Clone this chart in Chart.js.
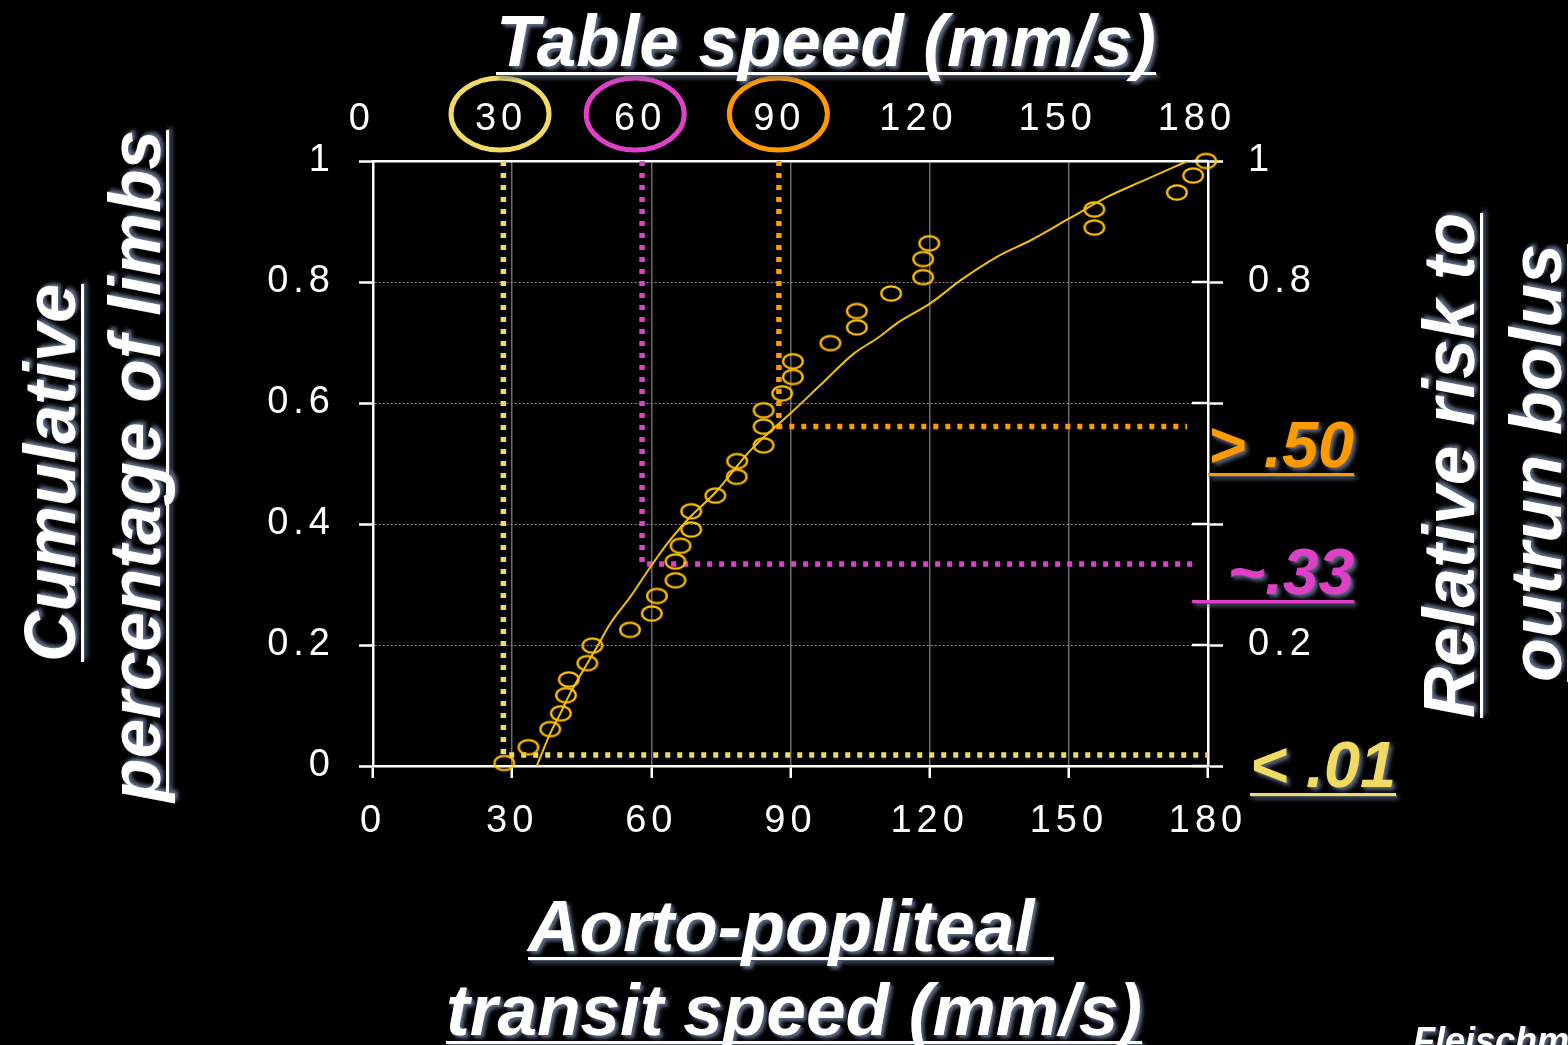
<!DOCTYPE html>
<html>
<head>
<meta charset="utf-8">
<script src="https://cdn.jsdelivr.net/npm/chart.js@4.4.1/dist/chart.umd.min.js"></script>
<style>
    html, body { margin: 0; padding: 0; background: #000; overflow: hidden; width: 1568px; height: 1045px; }
    #wrap { position: relative; width: 1568px; height: 1045px; }
    canvas { position: absolute; left: 0; top: 0; }
    .lbl {
        position: absolute; white-space: pre; line-height: 1;
        font-family: "Liberation Sans", Arial, sans-serif; font-weight: bold; font-style: italic;
        color: #fff; transform-origin: 0 0;
        text-shadow: 3px 3px 4px #5d6880, 1px 1px 1px #3c4455;
        text-decoration: underline; text-decoration-thickness: 3px;
        text-decoration-skip-ink: none; text-underline-offset: 6px;
    }
</style>
</head>
<body>
<div id="wrap"><canvas id="chart" width="1568" height="1045"></canvas></div>
<script>
// aorto-popliteal transit speed vs cumulative share of limbs

const xTicks = [0, 30, 60, 90, 120, 150, 180];
const topTicks = [0, 30, 60, 90, 120, 150, 180];
const leftTickLabels = ['0', '0.2', '0.4', '0.6', '0.8', '1'];
const rightTickLabels = ['', '0.2', '', '', '0.8', '1'];

// one point per limb (37 limbs)
const limbSpeed = [28.3, 33.5, 38.2, 40.5, 41.6, 42.2, 46.2, 47.3, 55.4, 60.1, 61.2, 65.2, 65.2, 66.3,
    68.6, 68.6, 73.8, 78.4, 78.5, 84.2, 84.2, 84.2, 88.2, 90.5, 90.5, 98.6, 104.3, 104.3, 111.7,
    118.6, 118.6, 119.9, 155.5, 155.5, 173.3, 176.8, 179.6];
const limbCum = [0.005, 0.031, 0.061, 0.087, 0.117, 0.143, 0.170, 0.199, 0.225, 0.252, 0.281, 0.307,
    0.338, 0.364, 0.391, 0.421, 0.447, 0.478, 0.504, 0.530, 0.561, 0.588, 0.616, 0.643, 0.669, 0.699,
    0.725, 0.752, 0.781, 0.808, 0.838, 0.864, 0.890, 0.920, 0.948, 0.976, 1.0];

// fitted curve
const fitSpeed = [35.3, 38.2, 40.4, 42.5, 45.4, 48.3, 51.2, 55.5, 59.8, 64.1, 68.4, 73.8, 81.4, 86.8,
    90.0, 96.5, 103.7, 108.7, 113.0, 120.2, 126.7, 134.6, 141.8, 150.1, 158.4, 165.6, 175.6];
const fitCum = [0.0, 0.054, 0.087, 0.120, 0.159, 0.197, 0.236, 0.280, 0.329, 0.374, 0.412, 0.452, 0.522,
    0.561, 0.583, 0.630, 0.682, 0.707, 0.732, 0.765, 0.803, 0.842, 0.869, 0.905, 0.941, 0.966, 1.0];

// table speed cut-offs (30, 60, 90 mm/s)
const cutoffSpeed = [28.1, 58.0, 87.5];
const cutoffLevel = [0.018, 0.334, 0.561];
const cutoffEnd = [180, 177.5, 175.5];
const cutoffColors = ['#f0dc64', '#e040c8', '#ff9900'];
const circledTicks = [30, 60, 90];
const circleShift = [-1, -5, -1];

const white = '#ffffff';
const tickFont = { family: '"Liberation Sans", Arial, sans-serif', size: 38 };

function cutoffData(i) {
    return [
        { x: cutoffSpeed[i], y: 1 },
        { x: cutoffSpeed[i], y: cutoffLevel[i] },
        { x: cutoffEnd[i], y: cutoffLevel[i] }
    ];
}

function ellipseMarker() {
    let c = document.createElement('canvas');
    c.width = 24; c.height = 19;
    let g = c.getContext('2d');
    g.strokeStyle = '#ffc000';
    g.lineWidth = 2.3;
    g.beginPath();
    g.ellipse(12, 9.5, 9.8, 7.2, 0, 0, Math.PI * 2);
    g.stroke();
    return c;
}

var datasets = [
    {
        data: limbSpeed.map((v, i) => ({ x: v, y: limbCum[i] })),
        pointStyle: ellipseMarker(),
        pointRadius: 11,
        showLine: false,
        clip: false
    },
    {
        data: fitSpeed.map((v, i) => ({ x: v, y: fitCum[i] })),
        showLine: true,
        borderColor: '#f2c000',
        borderWidth: 2,
        pointRadius: 0,
        cubicInterpolationMode: 'monotone'
    }
];
for (var i = 0; i < cutoffSpeed.length; i++) {
    datasets.push({
        data: cutoffData(i),
        showLine: true,
        borderColor: cutoffColors[i],
        borderWidth: 5.5,
        borderDash: [5, 7],
        borderCapStyle: 'butt',
        pointRadius: 0,
        clip: false
    });
}

// wider letter spacing for the tick labels
const spacing = {
    id: 'spacing',
    beforeDraw(chart) { chart.ctx.letterSpacing = '5px'; },
    afterDraw(chart) { chart.ctx.letterSpacing = '0px'; }
};

// rings round the 30/60/90 table speeds, inner halves of right ticks
const marks = {
    id: 'marks',
    afterDraw(chart) {
        let ctx = chart.ctx;
        let top = chart.scales.x2;
        ctx.save();
        ctx.lineWidth = 5;
        circledTicks.forEach(function (v, i) {
            ctx.strokeStyle = cutoffColors[i];
            ctx.beginPath();
            ctx.ellipse(top.getPixelForValue(v) + circleShift[i], 114, 49, 36, 0, 0, Math.PI * 2);
            ctx.stroke();
        });
        let r = chart.scales.y2;
        ctx.strokeStyle = white;
        ctx.lineWidth = 2.5;
        r.ticks.forEach(function (t) {
            let y = r.getPixelForValue(t.value);
            ctx.beginPath();
            ctx.moveTo(chart.chartArea.right - 16, y);
            ctx.lineTo(chart.chartArea.right, y);
            ctx.stroke();
        });
        ctx.restore();
    }
};

new Chart(document.getElementById('chart'), {
    type: 'scatter',
    data: { datasets: datasets },
    plugins: [spacing, marks],
    options: {
        responsive: false,
        animation: false,
        layout: { padding: 0 },
        plugins: { legend: { display: false }, tooltip: { enabled: false } },
        scales: {
            x: {
                type: 'linear', position: 'bottom', min: 0, max: 180,
                afterBuildTicks: s => { s.ticks = xTicks.map(v => ({ value: v })); },
                afterFit: s => { s.height = 279; },
                ticks: { color: white, font: tickFont, padding: 21, maxRotation: 0, autoSkip: false },
                grid: { color: '#6b6b6b', lineWidth: 1.5, tickColor: white, tickLength: 12, tickWidth: 2.5 },
                border: { color: white, width: 2.5 }
            },
            x2: {
                type: 'linear', position: 'top', min: 2.4, max: 182.4,
                afterBuildTicks: s => { s.ticks = topTicks.map(v => ({ value: v })); },
                afterFit: s => { s.height = 161; },
                ticks: { color: white, font: tickFont, padding: 19, maxRotation: 0, autoSkip: false },
                grid: { drawOnChartArea: false, drawTicks: false },
                border: { color: white, width: 2.5 }
            },
            y: {
                type: 'linear', position: 'left', min: 0, max: 1,
                afterFit: s => { s.width = 373; },
                ticks: { color: white, font: tickFont, padding: 24, stepSize: 0.2,
                    callback: (v, i) => leftTickLabels[i] },
                grid: { color: '#8a8a8a', lineWidth: 1, tickColor: white, tickLength: 14, tickWidth: 2.5 },
                border: { color: white, width: 2.5, dash: [2, 2] }
            },
            y2: {
                type: 'linear', position: 'right', min: 0, max: 1,
                afterFit: s => { s.width = 360; },
                ticks: { color: white, font: tickFont, padding: 25, stepSize: 0.2,
                    callback: (v, i) => rightTickLabels[i] },
                grid: { drawOnChartArea: false, tickColor: white, tickLength: 15, tickWidth: 2.5 },
                border: { color: white, width: 2.5 }
            }
        }
    }
});

// titles and risk labels as html text
function addText(txt, size, color, left, baseline, width, vertical) {
    let el = document.createElement('div');
    el.className = 'lbl';
    el.textContent = txt;
    el.style.fontSize = size + 'px';
    el.style.color = color;
    el.style.textDecorationColor = color;
    document.getElementById('wrap').appendChild(el);
    let k = width / el.getBoundingClientRect().width;
    if (vertical) {
        // left = baseline x, baseline = bottom y where the text starts
        el.style.left = (left - 0.8465 * size) + 'px';
        el.style.top = baseline + 'px';
        el.style.transform = 'rotate(-90deg) scaleX(' + k + ')';
    } else {
        el.style.left = left + 'px';
        el.style.top = (baseline - 0.8465 * size) + 'px';
        el.style.transform = 'scaleX(' + k + ')';
    }
}

addText('Table speed (mm/s)', 72, white, 496, 66, 660, false);
addText('Aorto-popliteal ', 72, white, 528, 951, 526, false);
addText('transit speed (mm/s)', 72, white, 446, 1035, 696, false);
addText('Cumulative', 72, white, 75, 662, 378, true);
addText('percentage of limbs', 72, white, 160, 802, 672, true);
addText('Relative risk to', 72, white, 1474, 718, 505, true);
addText('outrun bolus', 72, white, 1561, 682, 438, true);
addText('> .50', 64, cutoffColors[2], 1208, 467, 146, false);
addText('\u00a0\u00a0~.33', 64, cutoffColors[1], 1192, 594, 162, false);
addText('< .01', 64, cutoffColors[0], 1250, 787, 146, false);
let credit = document.createElement('div');
credit.className = 'lbl';
credit.textContent = 'Fleischmann';
credit.style.cssText = 'font-size:36px;left:1413px;top:1023px;text-decoration:none';
document.getElementById('wrap').appendChild(credit);
</script>
</body>
</html>
